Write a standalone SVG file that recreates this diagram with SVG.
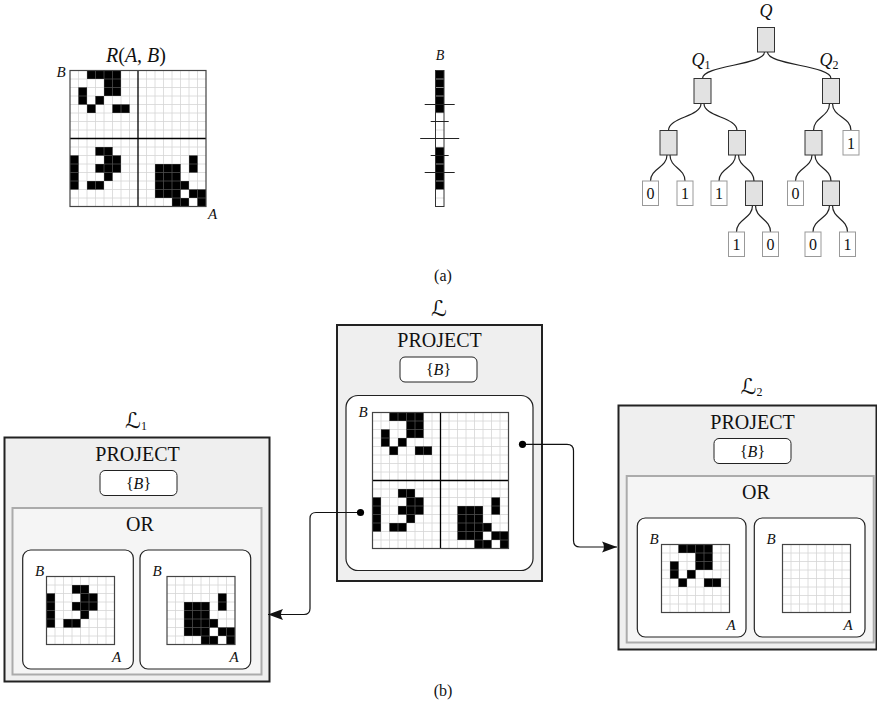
<svg xmlns="http://www.w3.org/2000/svg" width="877" height="708" viewBox="0 0 877 708">
  <style>
    text { font-family: "Liberation Serif", "Times New Roman", serif; fill: #111; }
    .it { font-style: italic; }
    .mid { text-anchor: middle; }
    .cal { font-family: "DejaVu Serif", "DejaVu Sans", serif; font-style: italic; }
    .fine { stroke: #d6d6d6; stroke-width: 0.8; fill: none; }
    .fine-dark { stroke: #4d4d4d; stroke-width: 0.8; fill: none; }
    .quad { stroke: #000; stroke-width: 1.3; fill: none; }
    .frame { stroke: #444; stroke-width: 1.2; fill: none; }
    .cells { fill: #000; }
    .edge { stroke: #222; stroke-width: 1.2; fill: none; }
    .inner { fill: #e2e2e2; stroke: #333; stroke-width: 1; }
    .leaf { fill: #fff; stroke: #999; stroke-width: 1; }
    .op { fill: #efefef; stroke: #222; stroke-width: 2; }
    .orpanel { fill: #f5f5f5; stroke: #ababab; stroke-width: 2; }
    .attr { fill: #fff; stroke: #222; stroke-width: 1; }
    .rel { fill: #fff; stroke: #222; stroke-width: 1.2; }
    .conn { stroke: #111; stroke-width: 1.2; fill: none; }
  </style>
  <defs>
    <!-- light lines of an 8x8 block, cell size 8.5 -->
    <path id="fine8" class="fine" d="M8.5 0V68M17 0V68M25.5 0V68M34 0V68M42.5 0V68M51 0V68M59.5 0V68M0 8.5H68M0 17H68M0 25.5H68M0 34H68M0 42.5H68M0 51H68M0 59.5H68"/>
    <path id="fine8d" class="fine-dark" d="M8.5 0V68M17 0V68M25.5 0V68M34 0V68M42.5 0V68M51 0V68M59.5 0V68M0 8.5H68M0 17H68M0 25.5H68M0 34H68M0 42.5H68M0 51H68M0 59.5H68"/>
    <!-- occupied cells per quadrant -->
    <path id="ulp" class="cells" d="M17 0h34v8.5h-34zM34 8.5h17v17h-17zM8.5 17h8.5v17h-8.5zM25.5 25.5h8.5v8.5h-8.5zM17 34h8.5v8.5h-8.5zM42.5 34h17v8.5h-17z"/>
    <path id="llp" class="cells" d="M25.5 8.5h17v8.5h-17zM0 17h8.5v34h-8.5zM34 17h17v8.5h-17zM25.5 25.5h25.5v8.5h-25.5zM34 34h8.5v8.5h-8.5zM17 42.5h17v8.5h-17z"/>
    <path id="lrp" class="cells" d="M51 17h8.5v17h-8.5zM17 25.5h25.5v17h-25.5zM17 42.5h34v8.5h-34zM17 51h25.5v8.5h-25.5zM51 51h17v8.5h-17zM34 59.5h17v8.5h-17zM59.5 59.5h8.5v8.5h-8.5z"/>
    <clipPath id="c-ul"><use href="#ulp"/></clipPath>
    <clipPath id="c-ll"><use href="#llp"/></clipPath>
    <clipPath id="c-lr"><use href="#lrp"/></clipPath>
    <g id="ul"><use href="#ulp"/><g clip-path="url(#c-ul)"><use href="#fine8d"/></g></g>
    <g id="ll"><use href="#llp"/><g clip-path="url(#c-ll)"><use href="#fine8d"/></g></g>
    <g id="lr"><use href="#lrp"/><g clip-path="url(#c-lr)"><use href="#fine8d"/></g></g>
    <!-- full 16x16 relation grid -->
    <g id="grid16">
      <rect width="136" height="136" fill="#fff"/>
      <use href="#fine8"/>
      <use href="#fine8" x="68"/>
      <use href="#fine8" y="68"/>
      <use href="#fine8" x="68" y="68"/>
      <use href="#ul"/>
      <use href="#ll" y="68"/>
      <use href="#lr" x="68" y="68"/>
      <path class="quad" d="M68 0V136M0 68H136"/>
      <rect class="frame" width="136" height="136"/>
    </g>
    <g id="blank8">
      <rect width="68" height="68" fill="#fff"/>
      <use href="#fine8"/>
    </g>
    <marker id="arrow" markerUnits="userSpaceOnUse" markerWidth="20" markerHeight="14" viewBox="-16 -7 17 14" refX="0" refY="0" orient="auto">
      <path d="M0 0L-15 -5.5Q-11 0 -15 5.5Z" fill="#111"/>
    </marker>
  </defs>

  <!-- (a) left: relation R(A,B) -->
  <g id="relation-a">
    <text x="136" y="62" class="mid" font-size="20"><tspan class="it">R</tspan>(<tspan class="it">A</tspan>, <tspan class="it">B</tspan>)</text>
    <text x="61" y="77" class="mid it" font-size="15">B</text>
    <use href="#grid16" x="70" y="70.5"/>
    <text x="212.5" y="219" class="mid it" font-size="15">A</text>
  </g>

  <!-- (a) middle: projection onto B -->
  <g id="projection-a">
    <text x="440" y="60" class="mid it" font-size="14">B</text>
    <rect x="435.5" y="70.5" width="8.5" height="136" fill="#fff"/>
    <rect x="435.5" y="70.5" width="8.5" height="42.5" fill="#000"/>
    <rect x="435.5" y="147" width="8.5" height="42.5" fill="#000"/>
    <path d="M435.5 79H444M435.5 87.5H444M435.5 96H444M435.5 164H444M435.5 181H444" stroke="#8a8a8a" stroke-width="1"/>
    <path d="M435.5 130H444M435.5 198H444M435.5 113H444M435.5 147H444" stroke="#d6d6d6" stroke-width="0.8"/>
    <rect x="435.5" y="70.5" width="8.5" height="136" fill="none" stroke="#333" stroke-width="1"/>
    <path d="M420.2 138.5H459.2M424.7 104.5H454.7M424.7 172.5H454.7M430.7 121.5H448.7M430.7 155.5H448.7" stroke="#222" stroke-width="1"/>
  </g>

  <!-- (a) right: quadtree -->
  <g id="tree-a">
    <g id="tree-edges">
      <path class="edge" d="M764.5 52C764.5 65.25 702.5 65.25 702.5 78.5"/>
      <path class="edge" d="M767.5 52C767.5 65.25 831 65.25 831 78.5"/>
      <path class="edge" d="M701 103.5C701 117 668.5 117 668.5 130.5"/>
      <path class="edge" d="M704 103.5C704 117 737 117 737 130.5"/>
      <path class="edge" d="M829.5 103.5C829.5 117 813.5 117 813.5 130.5"/>
      <path class="edge" d="M832.5 103.5C832.5 117 851 117 851 130.5"/>
      <path class="edge" d="M667 155C667 168 650.5 168 650.5 181"/>
      <path class="edge" d="M670 155C670 168 685 168 685 181"/>
      <path class="edge" d="M735.5 155C735.5 168 719 168 719 181"/>
      <path class="edge" d="M738.5 155C738.5 168 754 168 754 181"/>
      <path class="edge" d="M812 155C812 168 795.5 168 795.5 181"/>
      <path class="edge" d="M815 155C815 168 831 168 831 181"/>
      <path class="edge" d="M752.5 205.5C752.5 218.75 736.5 218.75 736.5 232"/>
      <path class="edge" d="M755.5 205.5C755.5 218.75 770.5 218.75 770.5 232"/>
      <path class="edge" d="M829.5 205.5C829.5 218.75 813 218.75 813 232"/>
      <path class="edge" d="M832.5 205.5C832.5 218.75 847.5 218.75 847.5 232"/>
    </g>
    <g id="q-root">
      <text x="766" y="17" class="mid it" font-size="18">Q</text>
      <rect class="inner" x="757.5" y="27.5" width="17" height="24.5"/>
    </g>
    <g id="q-1">
      <text x="701" y="66" class="mid" font-size="18"><tspan class="it">Q</tspan><tspan font-size="12" dy="3">1</tspan></text>
      <rect class="inner" x="694" y="78.5" width="17" height="25"/>
    </g>
    <g id="q-2">
      <text x="829" y="66" class="mid" font-size="18"><tspan class="it">Q</tspan><tspan font-size="12" dy="3">2</tspan></text>
      <rect class="inner" x="822.5" y="78.5" width="17" height="25"/>
    </g>
    <g id="q-11"><rect class="inner" x="660" y="130.5" width="17" height="24.5"/></g>
    <g id="q-12"><rect class="inner" x="728.5" y="130.5" width="17" height="24.5"/></g>
    <g id="q-21"><rect class="inner" x="805" y="130.5" width="17" height="24.5"/></g>
    <g id="q-22"><rect class="leaf" x="843" y="130.5" width="16" height="24.5"/><text x="851" y="148.5" class="mid" font-size="16">1</text></g>
    <g id="q-111"><rect class="leaf" x="642.5" y="181" width="16" height="24.5"/><text x="650.5" y="199" class="mid" font-size="16">0</text></g>
    <g id="q-112"><rect class="leaf" x="677" y="181" width="16" height="24.5"/><text x="685" y="199" class="mid" font-size="16">1</text></g>
    <g id="q-121"><rect class="leaf" x="711" y="181" width="16" height="24.5"/><text x="719" y="199" class="mid" font-size="16">1</text></g>
    <g id="q-122"><rect class="inner" x="745.5" y="181" width="17" height="24.5"/></g>
    <g id="q-211"><rect class="leaf" x="787.5" y="181" width="16" height="24.5"/><text x="795.5" y="199" class="mid" font-size="16">0</text></g>
    <g id="q-212"><rect class="inner" x="822.5" y="181" width="17" height="24.5"/></g>
    <g id="q-1221"><rect class="leaf" x="728.5" y="232" width="16" height="24.5"/><text x="736.5" y="250" class="mid" font-size="16">1</text></g>
    <g id="q-1222"><rect class="leaf" x="762.5" y="232" width="16" height="24.5"/><text x="770.5" y="250" class="mid" font-size="16">0</text></g>
    <g id="q-2121"><rect class="leaf" x="805" y="232" width="16" height="24.5"/><text x="813" y="250" class="mid" font-size="16">0</text></g>
    <g id="q-2122"><rect class="leaf" x="839.5" y="232" width="16" height="24.5"/><text x="847.5" y="250" class="mid" font-size="16">1</text></g>
  </g>

  <text x="443" y="281" class="mid" font-size="16">(a)</text>

  <!-- (b) centre: L -->
  <g id="node-L">
    <text x="439" y="316" class="mid cal" font-size="22">ℒ</text>
    <rect class="op" x="337" y="325" width="205" height="256"/>
    <text x="439.5" y="347" class="mid" font-size="20">PROJECT</text>
    <rect class="attr" x="400" y="357" width="77" height="25" rx="5"/>
    <text x="438.5" y="375" class="mid" font-size="16">{<tspan class="it">B</tspan>}</text>
    <rect class="rel" x="346" y="395.5" width="187" height="175" rx="12"/>
    <text x="363" y="417" class="mid it" font-size="15">B</text>
    <use href="#grid16" x="372.5" y="412.5"/>
  </g>

  <!-- (b) left: L1 -->
  <g id="node-L1">
    <text x="136" y="428" class="mid" font-size="22"><tspan class="cal">ℒ</tspan><tspan font-size="12" dy="2">1</tspan></text>
    <rect class="op" x="4.5" y="437.5" width="265" height="244"/>
    <text x="137.5" y="461" class="mid" font-size="20">PROJECT</text>
    <rect class="attr" x="100" y="470.5" width="77" height="25" rx="5"/>
    <text x="138.5" y="488.5" class="mid" font-size="16">{<tspan class="it">B</tspan>}</text>
    <rect class="orpanel" x="12.5" y="508" width="249" height="166.5"/>
    <text x="140" y="530.5" class="mid" font-size="20">OR</text>
    <rect class="rel" x="22.7" y="550" width="110.6" height="119" rx="8"/>
    <text x="39.5" y="575.5" class="mid it" font-size="15">B</text>
    <g transform="translate(46.5 576.5)">
      <use href="#blank8"/>
      <use href="#ll"/>
      <rect class="frame" width="68" height="68"/>
    </g>
    <text x="116.5" y="662" class="mid it" font-size="15">A</text>
    <rect class="rel" x="140" y="550" width="110.7" height="119" rx="8"/>
    <text x="157" y="575.5" class="mid it" font-size="15">B</text>
    <g transform="translate(167 576.5)">
      <use href="#blank8"/>
      <use href="#lr"/>
      <rect class="frame" width="68" height="68"/>
    </g>
    <text x="234" y="662" class="mid it" font-size="15">A</text>
  </g>

  <!-- (b) right: L2 -->
  <g id="node-L2">
    <text x="751.5" y="394" class="mid" font-size="22"><tspan class="cal">ℒ</tspan><tspan font-size="12" dy="2">2</tspan></text>
    <rect class="op" x="618.5" y="405.5" width="258" height="244"/>
    <text x="752.5" y="429" class="mid" font-size="20">PROJECT</text>
    <rect class="attr" x="714" y="438.5" width="77" height="25" rx="5"/>
    <text x="752.5" y="456.5" class="mid" font-size="16">{<tspan class="it">B</tspan>}</text>
    <rect class="orpanel" x="626.7" y="476" width="247" height="166.5"/>
    <text x="756" y="498.5" class="mid" font-size="20">OR</text>
    <rect class="rel" x="637.3" y="518" width="108.7" height="119" rx="8"/>
    <text x="654" y="543.5" class="mid it" font-size="15">B</text>
    <g transform="translate(661.5 544.5)">
      <use href="#blank8"/>
      <use href="#ul"/>
      <rect class="frame" width="68" height="68"/>
    </g>
    <text x="731" y="630" class="mid it" font-size="15">A</text>
    <rect class="rel" x="754.3" y="518" width="110.7" height="119" rx="8"/>
    <text x="771" y="543.5" class="mid it" font-size="15">B</text>
    <g transform="translate(782.5 544.5)">
      <use href="#blank8"/>
      <rect class="frame" width="68" height="68"/>
    </g>
    <text x="848" y="630" class="mid it" font-size="15">A</text>
  </g>

  <!-- pointers from the quadrants of L to the child operators -->
  <g id="connectors">
    <path class="conn" d="M360.5 512.5H316Q310 512.5 310 518.5V608.5Q310 614.5 304 614.5H268" marker-end="url(#arrow)"/>
    <circle cx="360.5" cy="512.5" r="3.6" fill="#000"/>
    <path class="conn" d="M522.5 444.3H567Q573.5 444.3 573.5 450.8V540.5Q573.5 547 580 547H617" marker-end="url(#arrow)"/>
    <circle cx="522.5" cy="444.3" r="3.6" fill="#000"/>
  </g>

  <text x="443" y="696" class="mid" font-size="16">(b)</text>
</svg>
